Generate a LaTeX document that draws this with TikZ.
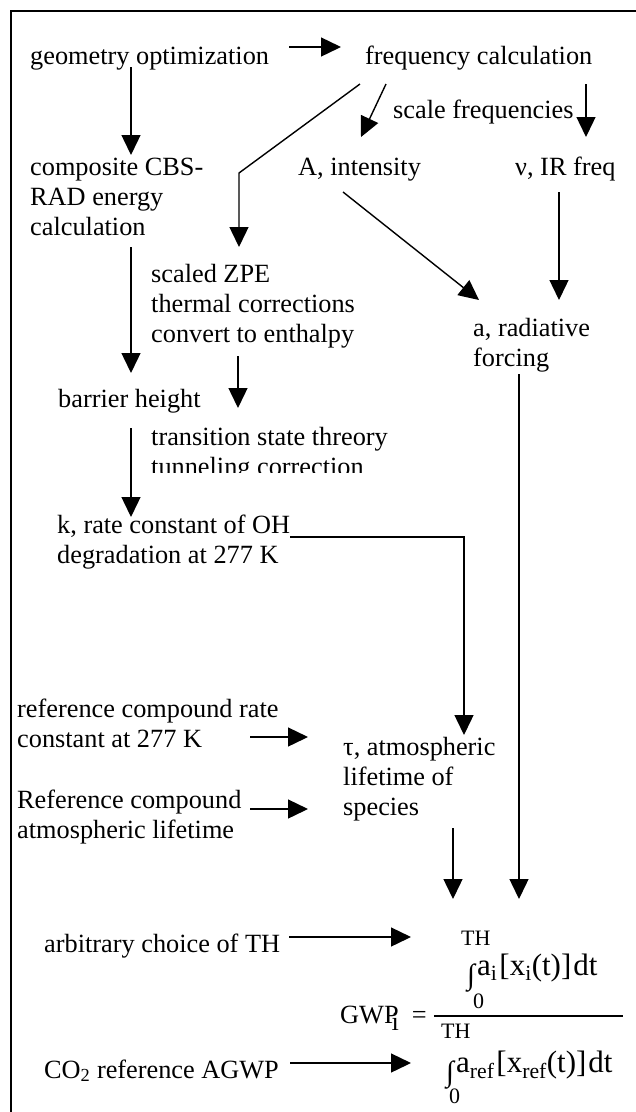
\documentclass[tikz,border=0pt]{standalone}
\usepackage{fontspec}
\setmainfont{Liberation Serif}
\usetikzlibrary{arrows.meta}
\newcommand{\tallint}{\raisebox{-9pt}{\fontsize{29}{29}\selectfont ∫}}

\begin{document}
\begin{tikzpicture}[
    x=1pt, y=-1pt,
    every node/.style={inner sep=0pt, anchor=base west},
    txt/.style={align=left, font=\fontsize{26.3}{30}\selectfont},
    lim/.style={font=\fontsize{22}{24}\selectfont},
    eqn/.style={font=\fontsize{31}{32}\selectfont},
    arrow/.style={-{Triangle[length=20pt,width=19pt]}, line width=1.4pt},
    link/.style={line width=1.4pt},
    frame/.style={line width=1.8pt}
]
\useasboundingbox (0,0) rectangle (636,1112);
\draw[frame] (640,11) -- (11,11) -- (11,1116);

\node[txt] (geo) at (30,64) {geometry optimization};
\node[txt] (freq) at (365,64) {frequency calculation};
\node[txt] (scalef) at (393,118) {scale frequencies};
\node[txt] (inten) at (298,175) {A, intensity};
\node[txt] (irfreq) at (515,175) {ν, IR freq};
\node[txt] (cbs) at (30,235) {composite CBS-\\RAD energy\\calculation};
\begin{scope}
\clip (0,0) rectangle (636,348);
\node[txt] (zpe) at (151,342) {scaled ZPE\\thermal corrections\\convert to enthalpy};
\end{scope}
\node[txt] (radf) at (473,366) {a, radiative\\forcing};
\node[txt] (barrier) at (58,407) {barrier height};
\begin{scope}
\clip (0,0) rectangle (636,472);
\node[txt] (tst) at (151,475) {transition state threory\\tunneling correction};
\end{scope}
\node[txt] (rate) at (57,563) {k, rate constant of OH\\degradation at 277 K};
\node[txt] (refk) at (17,747) {reference compound rate\\constant at 277 K};
\node[txt] (tau) at (343,815) {τ, atmospheric\\lifetime of\\species};
\node[txt] (reftau) at (17,838) {Reference compound\\atmospheric lifetime};
\node[txt] (thchoice) at (44,952) {arbitrary choice of TH};
\node[txt] (agwp) at (44,1078) {CO\textsubscript{2} reference AGWP};

% GWP ratio
\node[lim] (thnum) at (461,945) {TH};
\node[eqn] (intnum) at (467,975) {\tallint\kern2pt a\textsubscript{i}\kern2pt[x\textsubscript{i}(t)]\kern2pt dt};
\node[lim] (zeronum) at (473,1008) {0};
\node[txt] (gwp) at (340,1023) {GWP\kern-7pt\raisebox{-7pt}{i}\kern13pt=};
\node[lim] (thden) at (441,1038) {TH};
\node[eqn] (intden) at (446,1072) {\tallint\kern2pt a\textsubscript{ref}\kern2pt[x\textsubscript{ref}(t)]\kern2pt dt};
\node[lim] (zeroden) at (449,1103) {0};
\draw[link] ([xshift=7pt,yshift=7pt]gwp.base east) -- ++(189,0);

\draw[arrow] ([xshift=20pt,yshift=17pt]geo.base east) -- ([xshift=-24pt,yshift=17pt]freq.base west);
\draw[arrow] ([xshift=101pt,yshift=-3pt]geo.base west) -- ([xshift=101pt,yshift=80pt]cbs.base west);
\draw[arrow] ([xshift=-5pt,yshift=-20pt]freq.base west) -- ([xshift=88pt,yshift=169pt]zpe.base west) -- ([xshift=88pt,yshift=95pt]zpe.base west);
\draw[arrow] ([xshift=21pt,yshift=-20pt]freq.base west) -- ([xshift=63pt,yshift=38pt]inten.base west);
\draw[arrow] ([xshift=221pt,yshift=-20pt]freq.base west) -- ([xshift=71pt,yshift=38pt]irfreq.base west);
\draw[arrow] ([xshift=45pt,yshift=-17pt]inten.base west) -- ([xshift=6pt,yshift=66pt]radf.base west);
\draw[arrow] ([xshift=44pt,yshift=-17pt]irfreq.base west) -- ([xshift=86pt,yshift=66pt]radf.base west);
\draw[arrow] ([xshift=101pt,yshift=-12pt]cbs.base west) -- ([xshift=73pt,yshift=34pt]barrier.base west);
\draw[arrow] ([xshift=87pt,yshift=-14pt]zpe.base west) -- ([xshift=180pt,yshift=-1pt]barrier.base west);
\draw[arrow] ([xshift=73pt,yshift=-21pt]barrier.base west) -- ([xshift=74pt,yshift=46pt]rate.base west);
\draw[arrow] ([yshift=26pt]rate.base east) -| ([xshift=121pt,yshift=80pt]tau.base west);
\draw[arrow] ([xshift=233pt,yshift=10pt]refk.base west) -- ([xshift=-35pt,yshift=78pt]tau.base west);
\draw[arrow] ([xshift=233pt,yshift=29pt]reftau.base west) -- ([xshift=-35pt,yshift=6pt]tau.base west);
\draw[arrow] ([xshift=46pt,yshift=-8pt]radf.base west) -- ([xshift=58pt,yshift=46pt]thnum.base west);
\draw[arrow] ([xshift=110pt,yshift=-13pt]tau.base west) -- ([xshift=-8pt,yshift=46pt]thnum.base west);
\draw[arrow] ([xshift=9pt,yshift=15pt]thchoice.base east) -- ([xshift=-50pt,yshift=8pt]thnum.base west);
\draw[arrow] ([xshift=11pt,yshift=15pt]agwp.base east) -- ([xshift=-35pt,yshift=9pt]intden.base west);
\end{tikzpicture}
\end{document}
